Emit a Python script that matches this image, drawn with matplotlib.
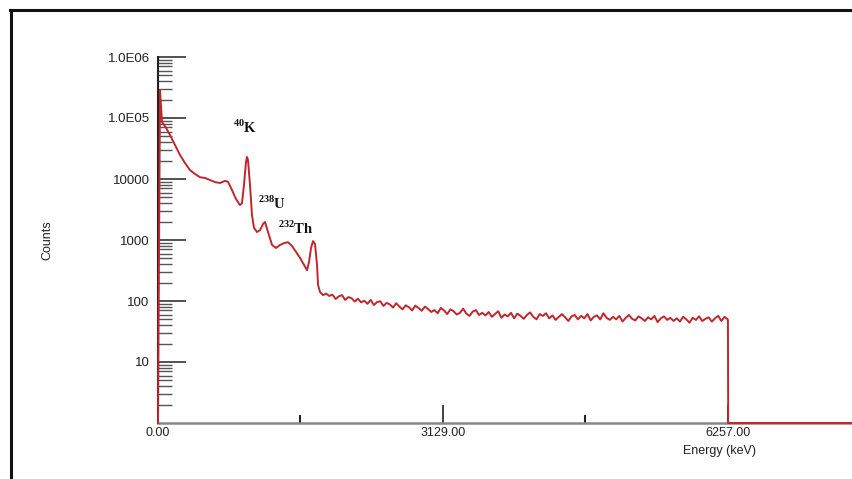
import numpy as np
import matplotlib
matplotlib.use("Agg")
import matplotlib.pyplot as plt
from matplotlib.lines import Line2D

plt.rcParams["font.family"] = ["Liberation Sans", "DejaVu Sans"]
plt.rcParams["mathtext.fontset"] = "custom"
plt.rcParams["mathtext.rm"] = "Liberation Serif:bold"
plt.rcParams["mathtext.bf"] = "Liberation Serif:bold"

# low energy part of the spectrum (keV, counts)
energy_low = [0, 22, 44, 88, 132, 187, 242, 296, 351, 406, 461, 516, 571, 626,
              681, 736, 769, 812, 856, 900, 922, 944, 966, 977, 988, 1010, 1032,
              1054, 1087, 1120, 1153, 1175, 1208, 1252, 1296, 1340, 1384, 1427,
              1471, 1515, 1559, 1603, 1636, 1658, 1680, 1702, 1724, 1746, 1757,
              1779, 1812]
counts_low = [1, 288000, 86000, 69000, 52500, 36000, 24700, 18300, 14000, 12100,
              10700, 10400, 9600, 8900, 8600, 9300, 9000, 6600, 4700, 3740, 4000,
              8000, 19000, 23000, 20500, 8000, 2560, 1580, 1350, 1450, 1830, 1970,
              1350, 830, 740, 830, 890, 920, 800, 640, 510, 390, 320, 435, 740,
              960, 860, 390, 183, 140, 125]

# flat continuum, channels every 35 keV from 1845 keV
energy_tail = np.arange(1845, 6260, 35)
counts_tail = [132, 121, 127, 108, 119, 125, 104, 116, 111, 98,
               109, 95, 101, 90, 104, 86, 96, 99, 83, 93,
               88, 78, 92, 81, 73, 85, 79, 70, 84, 77,
               69, 81, 74, 66, 71, 63, 77, 70, 61, 73,
               68, 60, 64, 75, 62, 57, 67, 71, 59, 64,
               58, 66, 55, 61, 68, 53, 60, 56, 64, 52,
               62, 57, 51, 59, 65, 55, 50, 61, 57, 63,
               52, 58, 49, 55, 61, 54, 47, 56, 59, 50,
               57, 52, 61, 48, 55, 58, 50, 63, 53, 49,
               55, 50, 57, 46, 53, 59, 51, 48, 56, 52,
               47, 54, 50, 57, 45, 52, 56, 49, 53, 47,
               52, 46, 55, 50, 44, 53, 49, 56, 47, 51,
               54, 46, 52, 57, 47, 55, 50]

# end of the spectrum
energy_end = [6257, 6260, 7630]
counts_end = [48, 1, 1]

energy = np.concatenate([energy_low, energy_tail, energy_end])
counts = np.concatenate([counts_low, counts_tail, counts_end])

y_ticks = [10, 100, 1000, 1e4, 1e5, 1e6]
y_labels = ["10", "100", "1000", "10000", "1.0E05", "1.0E06"]
x_ticks = [0, 3129, 6257]
x_labels = ["0.00", "3129.00", "6257.00"]
x_minor = [1564, 4693]

peaks = [(823, 71000, "$^{40}$K"), (1098, 4040, "$^{238}$U"),
         (1318, 1580, "$^{232}$Th")]

fig = plt.figure(figsize=(8.53, 4.79), dpi=100)
ax = fig.add_axes([158 / 853, 1 - 423 / 479, 1 - 158 / 853, (423 - 57) / 479])

ax.plot(energy, counts, color="#c0262d", lw=1.4, clip_on=False, zorder=3)
ax.set_yscale("log")
ax.set_ylim(1, 1e6)
ax.set_xlim(0, 7630)

ax.set_yticks(y_ticks)
ax.set_yticklabels(y_labels)
ax.set_xticks(x_ticks)
ax.set_xticklabels(x_labels)
ax.set_xticks(x_minor, minor=True)

ax.tick_params(axis="y", which="major", direction="in", length=20, width=1.2,
               color="#333333", labelsize=9.5, labelcolor="#222222", pad=6)
ax.tick_params(axis="y", which="minor", direction="in", length=10, width=1.0,
               color="#555555")
ax.tick_params(axis="x", which="major", direction="in", length=13, width=1.2,
               color="#222222", labelsize=9, labelcolor="#222222", pad=3)
ax.tick_params(axis="x", which="minor", direction="in", length=6, width=1.5,
               color="#222222")

for s in ["top", "right"]:
    ax.spines[s].set_visible(False)
ax.spines["left"].set_color("#222222")
ax.spines["left"].set_linewidth(1.5)
ax.spines["bottom"].set_color("#888888")
ax.spines["bottom"].set_linewidth(1.8)

for xe, ye, lab in peaks:
    ax.text(xe, ye, lab, fontsize=10.5, fontfamily="Liberation Serif",
            fontweight="bold", ha="left", va="center", color="#111111")

fig.text(720 / 853, 1 - 451 / 479, "Energy (keV)", fontsize=9, ha="center",
         va="center", color="#222222")
fig.text(47 / 853, 1 - 240 / 479, "Counts", rotation=90, fontsize=9,
         ha="center", va="center", color="#222222",
         fontfamily=["Liberation Sans Narrow", "Liberation Sans"])

# picture frame
fig.add_artist(Line2D([11 / 853, 11 / 853], [0, 1 - 10 / 479], color="#111111",
                      lw=2.2, transform=fig.transFigure))
fig.add_artist(Line2D([10 / 853, 1], [1 - 10 / 479, 1 - 10 / 479],
                      color="#111111", lw=2.2, transform=fig.transFigure))

fig.savefig("out.png", dpi=100)
